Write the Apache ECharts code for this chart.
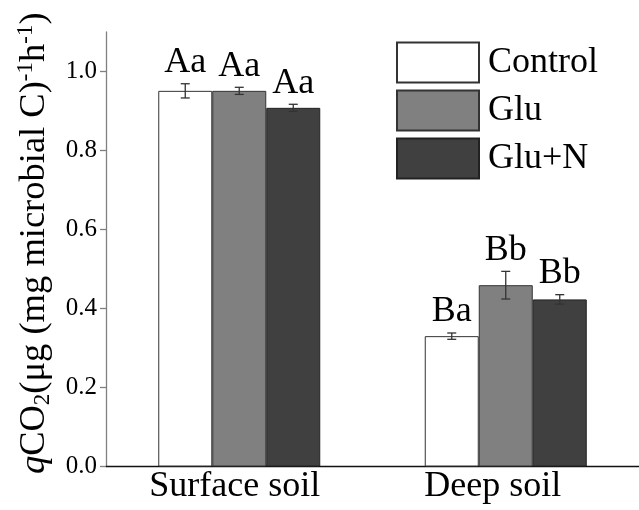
<!DOCTYPE html>
<html>
<head>
<meta charset="utf-8">
<script src="https://cdn.jsdelivr.net/npm/echarts@6/dist/echarts.min.js"></script>
<style>html,body{margin:0;padding:0;background:#fff;}#c{width:639px;height:510px;}</style>
</head>
<body>
<div id="c"></div>
<script>
const categories = ['Surface soil', 'Deep soil'];
const seriesNames = ['Control', 'Glu', 'Glu+N'];
const controlValues = [0.951, 0.330];
const gluValues = [0.951, 0.459];
const gluNValues = [0.908, 0.423];
const controlErrors = [0.018, 0.008];
const gluErrors = [0.009, 0.035];
const gluNErrors = [0.009, 0.012];
const controlLetters = ['Aa', 'Ba'];
const gluLetters = ['Aa', 'Bb'];
const gluNLetters = ['Aa', 'Bb'];
const yTicks = [0.0, 0.2, 0.4, 0.6, 0.8, 1.0];

const FONT = 'Liberation Serif';
const BAR_W = 54;
const values = [controlValues, gluValues, gluNValues];
const errors = [controlErrors, gluErrors, gluNErrors];
const letters = [controlLetters, gluLetters, gluNLetters];
const fills = ['#ffffff', '#808080', '#404040'];
const borders = ['#333333', '#333333', '#222222'];

const chart = echarts.init(document.getElementById('c'), null, {renderer: 'canvas'});

const barSeries = seriesNames.map((n, i) => ({
  name: n,
  type: 'bar',
  barWidth: BAR_W,
  barGap: '0%',
  data: values[i],
  itemStyle: {color: fills[i], borderColor: borders[i], borderWidth: 1},
  emphasis: {disabled: true},
  z: 2
}));

const errSeries = seriesNames.map((n, si) => ({
  name: n + ' err',
  type: 'custom',
  z: 5,
  data: categories.map((c, ci) => [ci, values[si][ci], errors[si][ci]]),
  renderItem: function (params, api) {
    const ci = api.value(0), v = api.value(1), e = api.value(2);
    const off = (si - 1) * BAR_W;
    const top = api.coord([ci, v + e]);
    const bot = api.coord([ci, v - e]);
    const x = top[0] + off;
    const cap = 4.5;
    const st = {stroke: '#333', lineWidth: 1.3};
    return {
      type: 'group',
      children: [
        {type: 'line', shape: {x1: x, y1: top[1], x2: x, y2: bot[1]}, style: st},
        {type: 'line', shape: {x1: x - cap, y1: top[1], x2: x + cap, y2: top[1]}, style: st},
        {type: 'line', shape: {x1: x - cap, y1: bot[1], x2: x + cap, y2: bot[1]}, style: st},
        {type: 'text', x: x, y: top[1] - 3,
         style: {text: letters[si][params.dataIndex], fill: '#000', font: '36px ' + FONT,
                 align: 'center', verticalAlign: 'bottom'}}
      ]
    };
  }
}));

chart.setOption({
  animation: false,
  backgroundColor: '#fff',
  textStyle: {fontFamily: FONT},
  grid: {left: 106, top: 32, width: 540, bottom: 43.5, containLabel: false},
  legend: {
    data: seriesNames,
    orient: 'vertical',
    left: 396,
    top: 41.5,
    padding: 0,
    itemWidth: 82,
    itemHeight: 40,
    itemGap: 6,
    icon: 'rect',
    selectedMode: false,
    textStyle: {fontFamily: FONT, fontSize: 36, color: '#000', lineHeight: 40, padding: [0, 0, 0, 4]}
  },
  xAxis: {
    type: 'category',
    data: categories,
    axisLine: {lineStyle: {color: '#111', width: 1.3}},
    axisTick: {show: false},
    axisLabel: {
      interval: 0,
      fontFamily: FONT, fontSize: 36, color: '#000', margin: 2, lineHeight: 36,
      formatter: function (v, i) { return i === 0 ? '{a|' + v + '}' : '{b|' + v + '}'; },
      rich: {
        a: {fontFamily: FONT, fontSize: 36, color: '#000', padding: [0, 9, 0, 0]},
        b: {fontFamily: FONT, fontSize: 36, color: '#000', padding: [0, 26, 0, 0]}
      }
    },
    splitLine: {show: false}
  },
  yAxis: {
    type: 'value',
    min: 0,
    max: 1.1,
    interval: 0.2,
    axisLine: {show: true, lineStyle: {color: '#808080', width: 1.3}},
    axisTick: {show: true, inside: false, length: 6, lineStyle: {color: '#808080', width: 1.3}, customValues: yTicks},
    axisLabel: {fontFamily: FONT, fontSize: 25, color: '#000', margin: 9, customValues: yTicks,
                formatter: v => v.toFixed(1)},
    splitLine: {show: false},
    name: '{q|q}{n|CO}{sub|2}{n|(μg (mg microbial C)}{sup|-1}{n|h}{sup|-1}{n|)}',
    nameLocation: 'middle',
    nameRotate: 90,
    nameGap: 48,
    nameTextStyle: {
      fontFamily: FONT, fontSize: 36.5, color: '#000', lineHeight: 40,
      rich: {
        q: {fontFamily: FONT, fontSize: 36.5, fontStyle: 'italic', color: '#000', lineHeight: 40, padding: [0, 0, 0, 12]},
        n: {fontFamily: FONT, fontSize: 36.5, color: '#000', lineHeight: 40},
        sub: {fontFamily: FONT, fontSize: 23, color: '#000', lineHeight: 22, verticalAlign: 'bottom'},
        sup: {fontFamily: FONT, fontSize: 23, color: '#000', lineHeight: 22, verticalAlign: 'top'}
      }
    }
  },
  series: barSeries.concat(errSeries)
});
</script>
</body>
</html>
